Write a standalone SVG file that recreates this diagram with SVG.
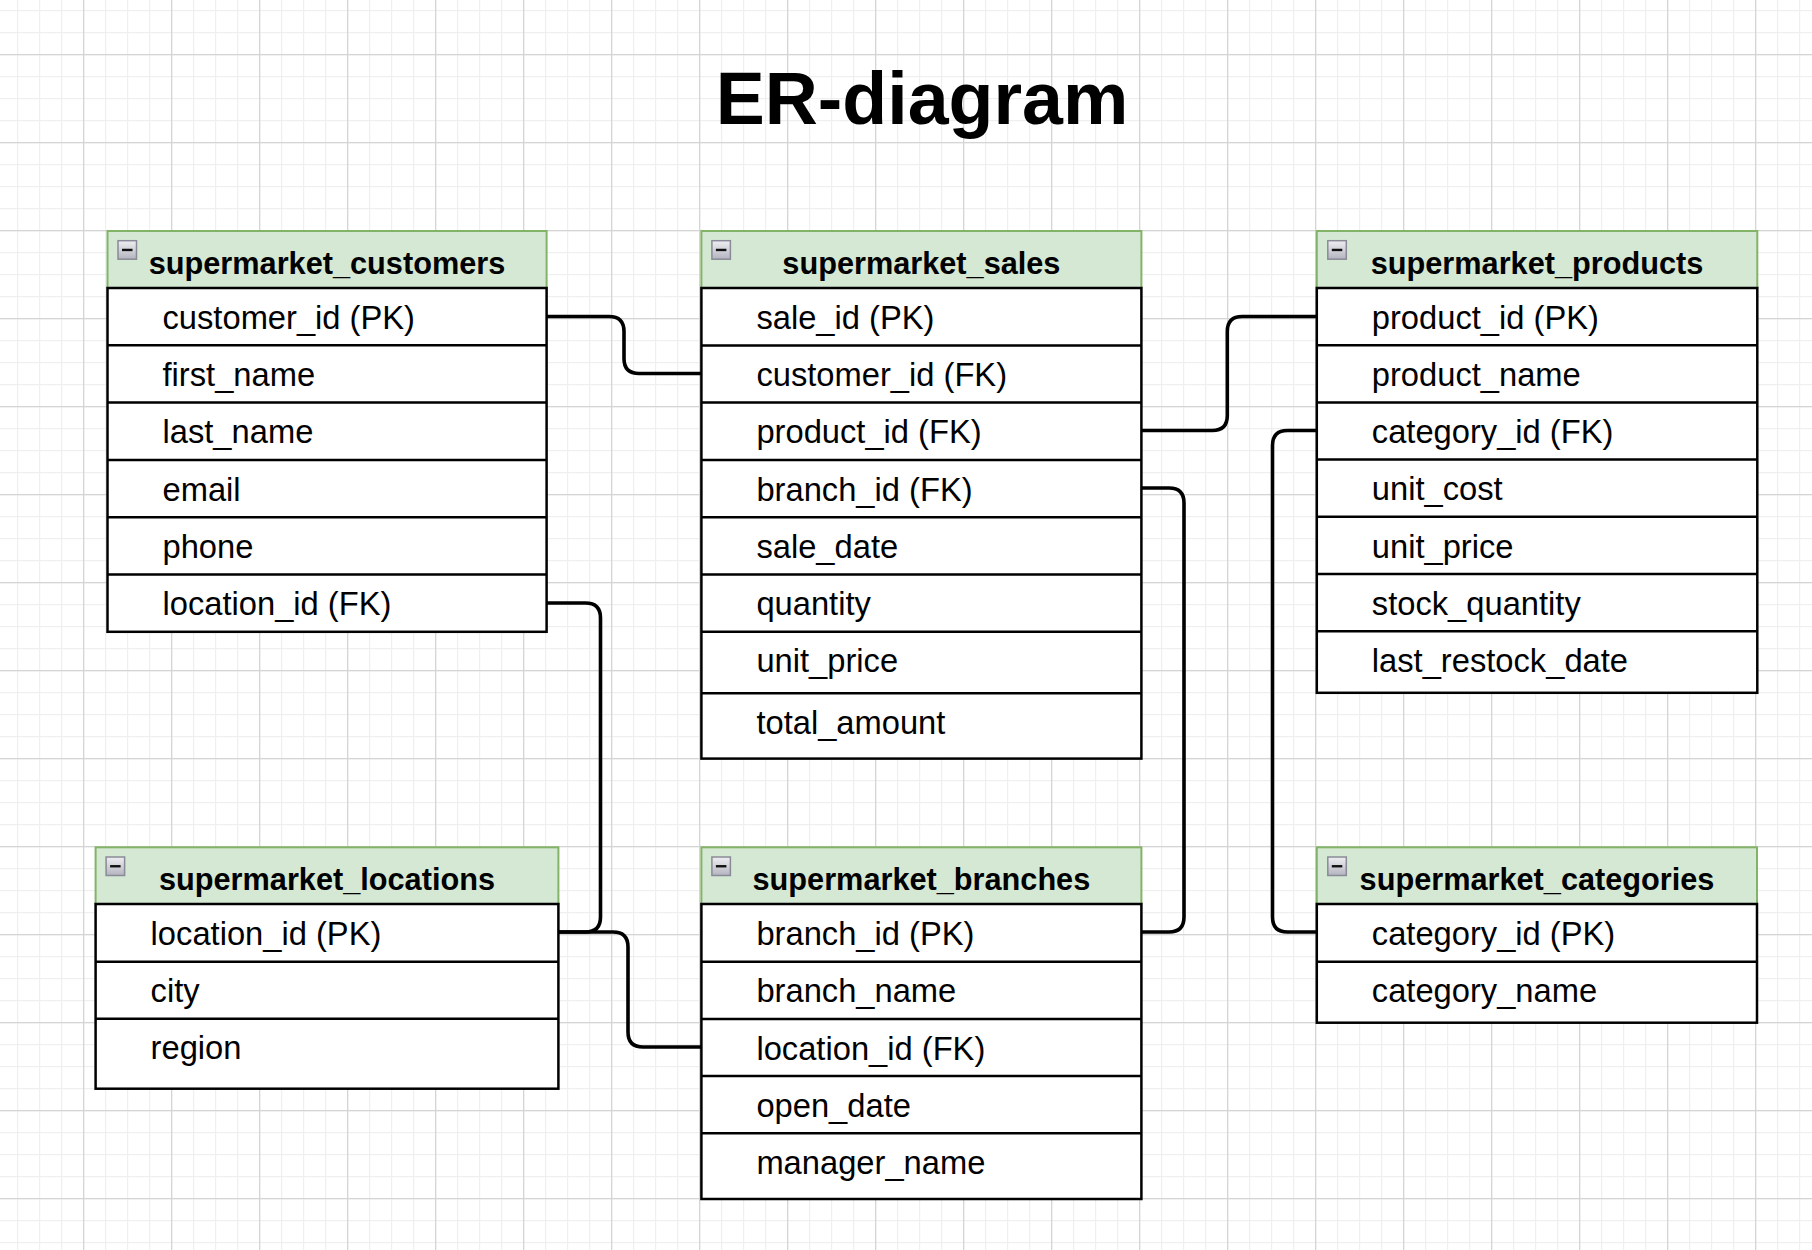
<svg xmlns="http://www.w3.org/2000/svg" width="1812" height="1250" viewBox="0 0 1812 1250">
<defs>
<pattern id="gmin" patternUnits="userSpaceOnUse" x="83" y="54" width="22" height="22"><rect width="22" height="1.2" fill="#efefef"/><rect width="1.2" height="22" fill="#efefef"/></pattern>
<pattern id="gmaj" patternUnits="userSpaceOnUse" x="83" y="54" width="88" height="88"><rect width="88" height="1.3" fill="#d5d5d5"/><rect width="1.3" height="88" fill="#d5d5d5"/></pattern>
<linearGradient id="icg" x1="0" y1="0" x2="0" y2="1"><stop offset="0" stop-color="#eeeef2"/><stop offset="1" stop-color="#b4b4c0"/></linearGradient>
<g id="icon"><rect x="0" y="0" width="18.5" height="18.5" fill="url(#icg)" stroke="#8a8a98" stroke-width="1.5"/><line x1="4" y1="9.25" x2="14.5" y2="9.25" stroke="#111" stroke-width="2.4"/></g>
</defs>
<style>
.hdr{fill:#d5e8d4;stroke:#82b366;stroke-width:2}
.body{fill:#fff;stroke:#000;stroke-width:2.5}
.sep{stroke:#000;stroke-width:2.5}
.ht{font-family:"Liberation Sans",Arial,Helvetica,sans-serif;font-weight:bold;font-size:30.7px;fill:#000;text-anchor:middle}
.at{font-family:"Liberation Sans",Arial,Helvetica,sans-serif;font-size:32.7px;fill:#000}
.title{font-family:"Liberation Sans",Arial,Helvetica,sans-serif;font-weight:bold;font-size:73.5px;fill:#000;text-anchor:middle}
.conn{fill:none;stroke:#000;stroke-width:3.6}
</style>
<rect width="1812" height="1250" fill="#fff"/>
<rect width="1812" height="1250" fill="url(#gmin)"/>
<rect width="1812" height="1250" fill="url(#gmaj)"/>
<text class="title" x="922" y="124.3">ER-diagram</text>
<g id="connectors">
<path class="conn" d="M546.6,316.5 H609 Q624,316.5 624,331.5 V358.5 Q624,373.5 639,373.5 H701.4"/>
<path class="conn" d="M546.6,603 H585.5 Q600.5,603 600.5,618 V917 Q600.5,932 585.5,932 H558.4"/>
<path class="conn" d="M558.4,932 H613 Q628,932 628,947 V1032 Q628,1047 643,1047 H701.4"/>
<path class="conn" d="M1141.4,430.5 H1212.3 Q1227.3,430.5 1227.3,415.5 V331.5 Q1227.3,316.5 1242.3,316.5 H1316.8"/>
<path class="conn" d="M1141.4,488 H1169 Q1184,488 1184,503 V917 Q1184,932 1169,932 H1141.4"/>
<path class="conn" d="M1316.8,430.5 H1287.5 Q1272.5,430.5 1272.5,445.5 V917 Q1272.5,932 1287.5,932 H1316.8"/>
</g>
<g id="supermarket_customers">
<rect class="hdr" x="107.5" y="231" width="439.1" height="57"/>
<use href="#icon" x="118" y="240.7"/>
<text class="ht" x="327" y="274">supermarket_customers</text>
<rect class="body" x="107.5" y="288" width="439.1" height="343.8"/>
<path class="sep" d="M107.5,345.3H546.6M107.5,402.6H546.6M107.5,459.9H546.6M107.5,517.2H546.6M107.5,574.5H546.6"/>
<text class="at" x="162.5" y="328.7">customer_id (PK)</text>
<text class="at" x="162.5" y="386">first_name</text>
<text class="at" x="162.5" y="443.3">last_name</text>
<text class="at" x="162.5" y="500.6">email</text>
<text class="at" x="162.5" y="557.9">phone</text>
<text class="at" x="162.5" y="615.2">location_id (FK)</text>
</g>
<g id="supermarket_sales">
<rect class="hdr" x="701.4" y="231" width="440" height="57"/>
<use href="#icon" x="711.9" y="240.7"/>
<text class="ht" x="921.4" y="274">supermarket_sales</text>
<rect class="body" x="701.4" y="288" width="440" height="470.6"/>
<path class="sep" d="M701.4,345.4H1141.4M701.4,402.6H1141.4M701.4,460H1141.4M701.4,517.2H1141.4M701.4,574.4H1141.4M701.4,631.8H1141.4M701.4,693.2H1141.4"/>
<text class="at" x="756.4" y="328.7">sale_id (PK)</text>
<text class="at" x="756.4" y="386.1">customer_id (FK)</text>
<text class="at" x="756.4" y="443.3">product_id (FK)</text>
<text class="at" x="756.4" y="500.7">branch_id (FK)</text>
<text class="at" x="756.4" y="557.9">sale_date</text>
<text class="at" x="756.4" y="615.1">quantity</text>
<text class="at" x="756.4" y="672.3">unit_price</text>
<text class="at" x="756.4" y="733.7">total_amount</text>
</g>
<g id="supermarket_products">
<rect class="hdr" x="1316.8" y="231" width="440.5" height="57"/>
<use href="#icon" x="1327.8" y="240.7"/>
<text class="ht" x="1537" y="274">supermarket_products</text>
<rect class="body" x="1316.8" y="288" width="440.5" height="404.8"/>
<path class="sep" d="M1316.8,345.2H1757.3M1316.8,402.4H1757.3M1316.8,459.6H1757.3M1316.8,516.8H1757.3M1316.8,574H1757.3M1316.8,631.2H1757.3"/>
<text class="at" x="1371.8" y="328.7">product_id (PK)</text>
<text class="at" x="1371.8" y="385.9">product_name</text>
<text class="at" x="1371.8" y="443.1">category_id (FK)</text>
<text class="at" x="1371.8" y="500.3">unit_cost</text>
<text class="at" x="1371.8" y="557.5">unit_price</text>
<text class="at" x="1371.8" y="614.7">stock_quantity</text>
<text class="at" x="1371.8" y="671.9">last_restock_date</text>
</g>
<g id="supermarket_locations">
<rect class="hdr" x="95.6" y="847.3" width="462.8" height="56.7"/>
<use href="#icon" x="106.1" y="857"/>
<text class="ht" x="327" y="890.3">supermarket_locations</text>
<rect class="body" x="95.6" y="904" width="462.8" height="184.7"/>
<path class="sep" d="M95.6,961.7H558.4M95.6,1018.7H558.4"/>
<text class="at" x="150.6" y="944.7">location_id (PK)</text>
<text class="at" x="150.6" y="1002.4">city</text>
<text class="at" x="150.6" y="1059.4">region</text>
</g>
<g id="supermarket_branches">
<rect class="hdr" x="701.4" y="847.3" width="440" height="56.7"/>
<use href="#icon" x="711.9" y="857"/>
<text class="ht" x="921.4" y="890.3">supermarket_branches</text>
<rect class="body" x="701.4" y="904" width="440" height="295"/>
<path class="sep" d="M701.4,961.7H1141.4M701.4,1018.9H1141.4M701.4,1076.1H1141.4M701.4,1133.3H1141.4"/>
<text class="at" x="756.4" y="944.7">branch_id (PK)</text>
<text class="at" x="756.4" y="1002.4">branch_name</text>
<text class="at" x="756.4" y="1059.6">location_id (FK)</text>
<text class="at" x="756.4" y="1116.8">open_date</text>
<text class="at" x="756.4" y="1174">manager_name</text>
</g>
<g id="supermarket_categories">
<rect class="hdr" x="1316.8" y="847.3" width="440.2" height="56.7"/>
<use href="#icon" x="1327.8" y="857"/>
<text class="ht" x="1537" y="890.3">supermarket_categories</text>
<rect class="body" x="1316.8" y="904" width="440.2" height="118.7"/>
<path class="sep" d="M1316.8,961.7H1757"/>
<text class="at" x="1371.8" y="944.7">category_id (PK)</text>
<text class="at" x="1371.8" y="1002.4">category_name</text>
</g>
</svg>
